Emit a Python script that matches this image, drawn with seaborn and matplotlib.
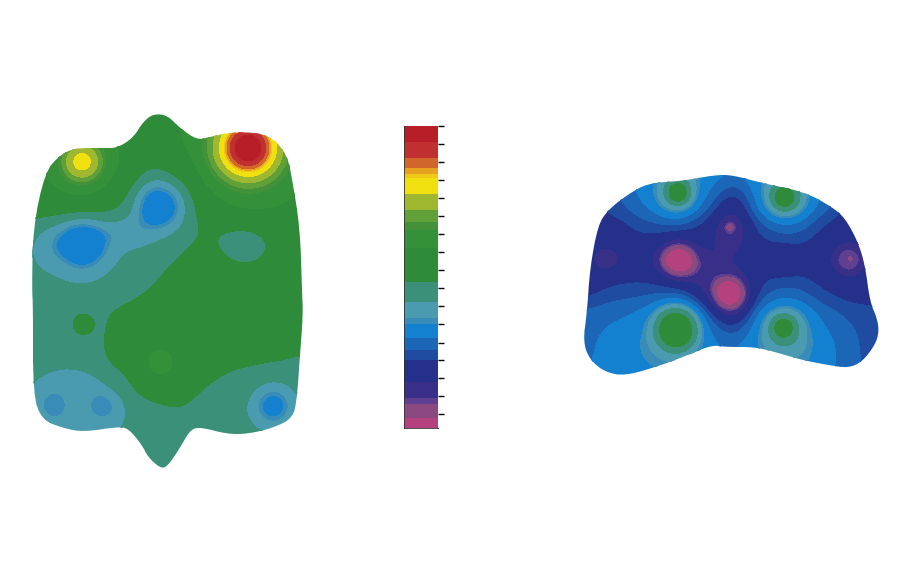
#%% MODULE BEGINS
module_name = 'contour maps'

#%% IMPORTS
from matplotlib import pyplot as plt
from matplotlib.colors import BoundaryNorm, ListedColormap
from matplotlib.patches import Polygon
import numpy as np
import seaborn as sns

#%% DATA
## colour scale, lowest band first
bandEdges = [-300, 10, 25, 31, 46, 68, 78, 90, 105, 111, 126, 146, 180, 198, 206, 218,
             235, 250, 255, 260, 271, 286, 700]
bandColors = ['#b5427f', '#8a4a80', '#5f4090', '#3a2f88', '#24308a', '#1f4ba0', '#1c66b8',
              '#1480d0', '#3a8cb8', '#4a9ab0', '#3a9078', '#2e8b3a', '#35903a', '#43923a',
              '#5fa038', '#a0b830', '#f0e010', '#f0c818', '#e8a020', '#d0662a', '#c03030',
              '#b81e28']
scaleTicks = [301, 283, 265, 247, 229, 211, 193, 175, 157, 139, 121, 103, 84, 67, 49, 31, 13]

## left map, values read on a coarse grid
leftX = [30, 60, 90, 120, 150, 180, 210, 240, 270, 300]
leftY = [110, 140, 170, 200, 230, 260, 290, 320, 350, 380, 410, 440, 470]
leftValues = [
    [165, 165, 165, 165, 165, 165, 165, 165, 165, 165],
    [165, 165, 165, 165, 165, 165, 165, 165, 165, 165],
    [165, 165, 165, 165, 140, 150, 165, 165, 165, 165],
    [165, 165, 165, 150, 131, 131, 158, 165, 165, 165],
    [135, 131, 131, 131, 131, 131, 150, 165, 165, 165],
    [131, 131, 131, 131, 131, 146, 165, 165, 165, 165],
    [131, 131, 131, 131, 143, 165, 165, 165, 165, 165],
    [131, 131, 131, 155, 170, 170, 170, 170, 170, 170],
    [131, 131, 135, 160, 170, 170, 170, 160, 155, 147],
    [131, 131, 131, 143, 165, 165, 145, 135, 131, 131],
    [131, 131, 131, 131, 140, 145, 131, 131, 131, 131],
    [131, 131, 131, 131, 131, 131, 131, 131, 131, 131],
    [131, 131, 131, 131, 131, 131, 131, 131, 131, 131],
]
leftPeakX = [82, 248, 159, 82, 128, 46, 245, 83, 78, 52, 105, 273, 160]
leftPeakY = [162, 148, 204, 243, 232, 245, 245, 324, 405, 405, 405, 406, 363]
leftPeakDelta = [75, 135, -42, -42, -10, -8, -32, 32, -14, -12, -13, -30, 22]
leftPeakRx = [21, 29, 26, 27, 24, 16, 29, 9, 46, 14, 15, 19, 12]
leftPeakRy = [21, 29, 26, 27, 16, 22, 23, 9, 34, 15, 15, 19, 12]
leftPeakPow = [2.5, 2.5, 4, 4, 4, 4, 4, 4, 4, 4, 4, 4, 4]
leftOutlineX = [32, 33, 45, 60, 75, 103, 117, 133, 143, 153, 167, 180, 197, 210, 227, 253, 273,
                287, 292, 300, 302, 303, 300, 297, 293, 273, 247, 227, 200, 190, 180, 167,
                160, 148, 142, 128, 117, 83, 63, 42, 33, 33]
leftOutlineY = [290, 228, 172, 155, 148, 148, 148, 138, 122, 114, 115, 128, 140, 137, 133, 132,
                138, 155, 178, 228, 290, 315, 355, 398, 418, 428, 434, 434, 427, 430, 448, 467,
                468, 457, 445, 428, 427, 432, 428, 420, 395, 305]

## right map
rightX = [585, 615, 645, 675, 705, 735, 765, 795, 825, 855, 885]
rightY = [170, 200, 230, 260, 290, 320, 350, 380]
rightValues = [
    [84, 84, 90, 97, 92, 84, 92, 97, 90, 84, 84],
    [60, 72, 84, 95, 75, 52, 80, 90, 74, 60, 55],
    [55, 58, 66, 67, 58, 50, 62, 66, 56, 52, 52],
    [52, 52, 52, 52, 52, 52, 52, 52, 52, 52, 52],
    [60, 70, 70, 70, 56, 50, 66, 68, 60, 56, 56],
    [84, 88, 90, 92, 74, 58, 82, 88, 78, 73, 73],
    [84, 97, 100, 100, 88, 84, 95, 100, 90, 74, 72],
    [90, 97, 100, 98, 90, 90, 95, 97, 92, 76, 74],
]
rightPeakX = [678, 784, 677, 783, 678, 730, 730, 730, 607, 783, 848, 705]
rightPeakY = [193, 198, 328, 327, 260, 295, 230, 227, 260, 260, 260, 277]
rightPeakDelta = [80, 80, 70, 75, -60, -60, -15, -35, -14, -14, -32, -9]
rightPeakRx = [12, 15, 22, 15, 19, 19, 20, 6, 16, 12, 16, 20]
rightPeakRy = [12, 15, 22, 15, 19, 19, 26, 6, 16, 12, 16, 20]
rightPeakPow = [2, 2, 4, 2, 4, 4, 4, 2, 4, 4, 4, 4]
rightOutlineX = [598, 608, 627, 648, 682, 715, 732, 762, 805, 832, 845, 858, 865, 870, 877, 879,
                 875, 862, 848, 828, 802, 775, 755, 725, 712, 688, 662, 625, 605, 590, 583, 587,
                 590]
rightOutlineY = [225, 210, 195, 183, 181, 175, 175, 183, 192, 207, 218, 242, 265, 302, 318, 332,
                 345, 362, 368, 365, 360, 352, 347, 347, 345, 355, 365, 376, 372, 360, 342, 312,
                 268]

#%% FUNCTIONS
def buildField(gridX, gridY, gridValues, peakX, peakY, peakDelta, peakRx, peakRy, peakPow):
  ##smooth the coarse grid
  xs = np.arange(min(gridX) - 10, max(gridX) + 11)
  ys = np.arange(min(gridY) - 10, max(gridY) + 11)
  meshX, meshY = np.meshgrid(xs, ys)
  sampleX, sampleY = np.meshgrid(gridX, gridY)
  values = np.array(gridValues, dtype=float).ravel()
  dist = (meshX[..., None] - sampleX.ravel())**2 + (meshY[..., None] - sampleY.ravel())**2
  weights = np.exp(-dist / (2 * 15.0**2))
  field = (weights * values).sum(axis=2) / weights.sum(axis=2)

  ##add the round peaks
  for px, py, delta, rx, ry, power in zip(peakX, peakY, peakDelta, peakRx, peakRy, peakPow):
    r = np.sqrt(((meshX - px) / rx)**2 + ((meshY - py) / ry)**2)
    field += delta / (1 + r**power)
  return xs, ys, field
#

def roundOutline(outlineX, outlineY):
  ##corner cutting so the outline is not angular
  pts = np.column_stack([outlineX, outlineY]).astype(float)
  for i in range(2):
    nxt = np.roll(pts, -1, axis=0)
    pts = np.column_stack([0.75 * pts + 0.25 * nxt, 0.25 * pts + 0.75 * nxt]).reshape(-1, 2)
  return pts
#

def drawMap(ax, field, outlineX, outlineY):
  xs, ys, z = field
  contours = ax.contourf(xs, ys, z, levels=bandEdges, colors=bandColors)
  contours.set_edgecolor('face')
  contours.set_linewidth(0.6)
  patch = Polygon(roundOutline(outlineX, outlineY), closed=True, transform=ax.transData,
                  facecolor='none', edgecolor='none')
  ax.add_patch(patch)
  contours.set_clip_path(patch)
#

def main():
  sns.set_theme(style='white')
  fig = plt.figure(figsize=(9, 5.75), dpi=100, facecolor='white')

  ##both maps share one pixel sized axes
  ax = fig.add_axes([0, 0, 1, 1])
  ax.set_xlim(0, 900)
  ax.set_ylim(575, 0)
  ax.axis('off')
  drawMap(ax, buildField(leftX, leftY, leftValues, leftPeakX, leftPeakY, leftPeakDelta,
                         leftPeakRx, leftPeakRy, leftPeakPow), leftOutlineX, leftOutlineY)
  drawMap(ax, buildField(rightX, rightY, rightValues, rightPeakX, rightPeakY, rightPeakDelta,
                         rightPeakRx, rightPeakRy, rightPeakPow), rightOutlineX, rightOutlineY)

  ##colour scale strip
  palette = sns.color_palette(bandColors, n_colors=len(bandColors))
  cmap = ListedColormap(palette)
  norm = BoundaryNorm(bandEdges, cmap.N)
  scaleValues = np.arange(301, 0, -2)[:, None]
  cax = fig.add_axes([404 / 900, 1 - 428 / 575, 34 / 900, 302 / 575])
  sns.heatmap(scaleValues, ax=cax, cmap=cmap, norm=norm, cbar=False, xticklabels=False)
  cax.yaxis.tick_right()
  cax.set_yticks([(301 - v) / 2 for v in scaleTicks])
  cax.set_yticklabels([])
  cax.tick_params(axis='y', right=True, left=False, length=4, width=1, color='black')
  for side in ['left', 'bottom']:
    cax.spines[side].set_visible(True)
    cax.spines[side].set_color('#333333')
    cax.spines[side].set_linewidth(0.6)

  plt.savefig('out.png', dpi=100, facecolor='white')
#

#%% SELF-RUN
if __name__ == "__main__":
  main()
